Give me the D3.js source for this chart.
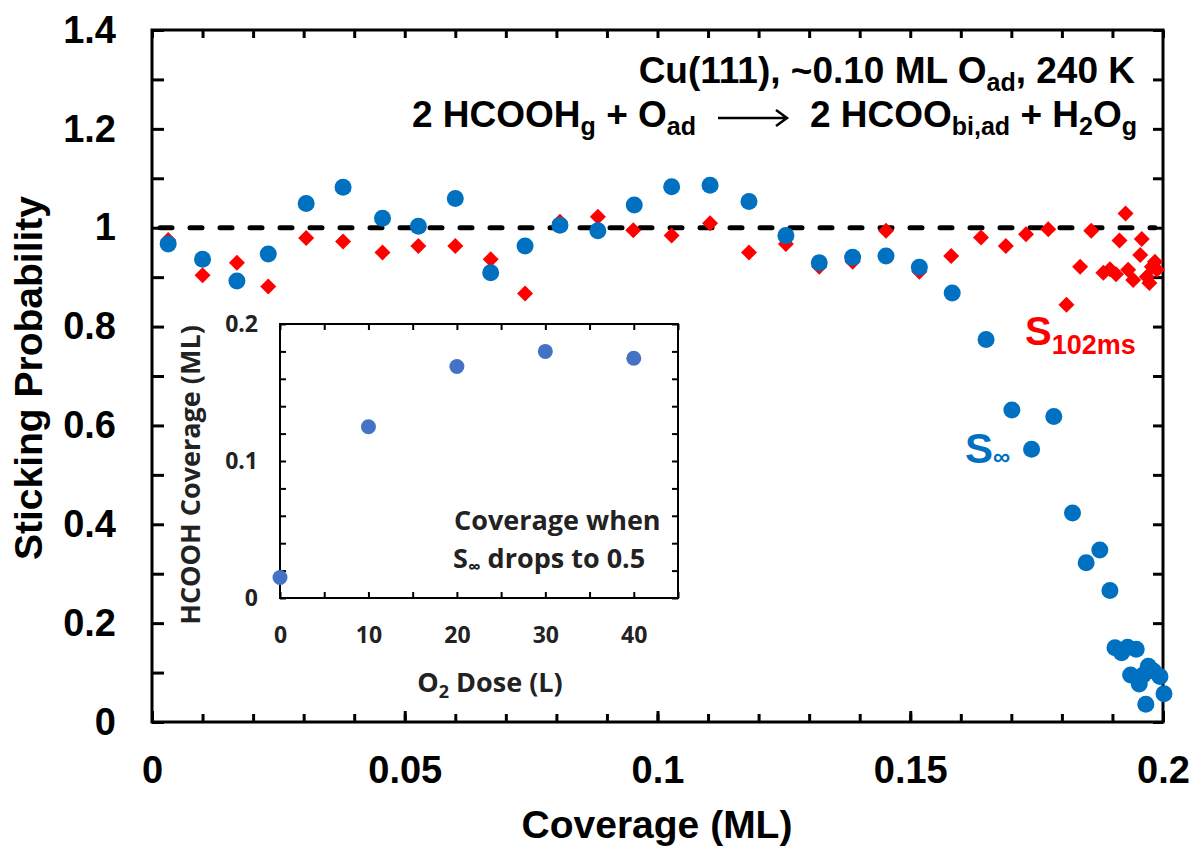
<!DOCTYPE html>
<html>
<head>
<meta charset="utf-8">
<script src="https://cdn.jsdelivr.net/npm/d3@7"></script>
<style>
  body { margin: 0; background: #fff; }
  svg { display: block; }
  .main text { font-family: "Liberation Sans", Arial, sans-serif; font-weight: bold; }
  .inset text { font-family: "Open Sans", sans-serif; font-weight: 700; fill: #222; }
</style>
</head>
<body>
<div id="container"></div>
<script>
const width = 1195, height = 848;

// S_inf (blue circles): coverage (ML), sticking probability
const sInfX = [0.0032, 0.0100, 0.0168, 0.0230, 0.0305, 0.0378, 0.0456, 0.0527, 0.0600, 0.0670,
    0.0738, 0.0807, 0.0882, 0.0954, 0.1028, 0.1104, 0.1181, 0.1254, 0.1320, 0.1386,
    0.1452, 0.1518, 0.1583, 0.1650, 0.1701, 0.1740, 0.1784, 0.1821, 0.1848, 0.1875,
    0.1895, 0.1905, 0.1918, 0.1930, 0.1947, 0.1936, 0.1953, 0.1961, 0.1966, 0.1971,
    0.1981, 0.1994, 0.2002];
const sInfY = [0.967, 0.936, 0.892, 0.947, 1.049, 1.082, 1.019, 1.003, 1.059, 0.909,
    0.963, 1.005, 0.994, 1.046, 1.083, 1.086, 1.053, 0.984, 0.929, 0.940,
    0.943, 0.920, 0.868, 0.774, 0.631, 0.552, 0.618, 0.423, 0.322, 0.348,
    0.266, 0.150, 0.140, 0.151, 0.147, 0.095, 0.077, 0.095, 0.036, 0.113,
    0.103, 0.092, 0.057];

// S_102ms (red diamonds)
const s102X = [0.0032, 0.0100, 0.0168, 0.0230, 0.0305, 0.0378, 0.0456, 0.0527, 0.0600, 0.0670,
    0.0738, 0.0807, 0.0882, 0.0952, 0.1028, 0.1104, 0.1181, 0.1254, 0.1320, 0.1386,
    0.1452, 0.1518, 0.1581, 0.1640, 0.1689, 0.1729, 0.1773, 0.1809, 0.1836, 0.1858,
    0.1882, 0.1895, 0.1907, 0.1914, 0.1926, 0.1931, 0.1941, 0.1955, 0.1958, 0.1968,
    0.1973, 0.1978, 0.1984, 0.1988];
const s102Y = [0.975, 0.904, 0.929, 0.881, 0.979, 0.972, 0.950, 0.963, 0.963, 0.936,
    0.867, 1.012, 1.022, 0.995, 0.984, 1.009, 0.950, 0.967, 0.921, 0.931,
    0.994, 0.911, 0.943, 0.980, 0.963, 0.987, 0.997, 0.844, 0.921, 0.994,
    0.909, 0.916, 0.906, 0.974, 1.029, 0.915, 0.894, 0.945, 0.977, 0.901,
    0.888, 0.921, 0.931, 0.915];

// inset: O2 dose (L) vs HCOOH coverage (ML) when S_inf drops to 0.5
const doseX = [0, 10, 20, 30, 40];
const doseCov = [0.015, 0.125, 0.169, 0.180, 0.175];

const xTicks = [0, 0.05, 0.1, 0.15, 0.2];
const xTickLabels = ["0", "0.05", "0.1", "0.15", "0.2"];
const yTicks = [0, 0.2, 0.4, 0.6, 0.8, 1, 1.2, 1.4];
const yTickLabels = ["0", "0.2", "0.4", "0.6", "0.8", "1", "1.2", "1.4"];
const insetXTicks = [0, 10, 20, 30, 40];
const insetYTicks = [0, 0.1, 0.2];
const insetYTickLabels = ["0", "0.1", "0.2"];

const blue = "#0070C0", red = "#FF0000", insetBlue = "#4472C4";

const svg = d3.select('#container')
    .append('svg')
    .attr('width', width)
    .attr('height', height);

const main = svg.append('g').attr('class', 'main');

const x = d3.scaleLinear().domain([0, 0.2]).range([152, 1163]);
const y = d3.scaleLinear().domain([0, 1.4]).range([722, 30]);

// minor ticks, pointing inward
main.append('g')
    .attr('transform', `translate(0,${y(0)})`)
    .call(d3.axisBottom(x).tickValues(d3.range(0, 0.2001, 0.01)).tickSize(-8).tickFormat(''));
main.append('g')
    .attr('transform', `translate(0,${y(0)})`)
    .call(d3.axisBottom(x).tickValues(xTicks).tickSize(-11).tickFormat(''));
main.append('g')
    .attr('transform', `translate(0,${y(1.4)})`)
    .call(d3.axisTop(x).tickValues(d3.range(0, 0.2001, 0.01)).tickSize(-8).tickFormat(''));
main.append('g')
    .attr('transform', `translate(${x(0)},0)`)
    .call(d3.axisLeft(y).tickValues(d3.range(0, 1.401, 0.1)).tickSize(-12).tickFormat(''));
main.append('g')
    .attr('transform', `translate(${x(0.2)},0)`)
    .call(d3.axisRight(y).tickValues(d3.range(0, 1.401, 0.1)).tickSize(-10).tickFormat(''));
main.selectAll('.tick line').attr('stroke', '#000').attr('stroke-width', 3);
main.selectAll('.domain').remove();

// tick labels
const xLab = main.append('g')
    .attr('transform', `translate(0,${y(0)})`)
    .call(d3.axisBottom(x).tickValues(xTicks).tickSize(0).tickPadding(34)
        .tickFormat((d, i) => xTickLabels[i]));
const yLab = main.append('g')
    .attr('transform', `translate(${x(0)},0)`)
    .call(d3.axisLeft(y).tickValues(yTicks).tickSize(0).tickPadding(36)
        .tickFormat((d, i) => yTickLabels[i]));
[xLab, yLab].forEach(g => {
    g.select('.domain').remove();
    g.selectAll('text').attr('font-size', 38).attr('fill', '#000')
        .style('font-family', '"Liberation Sans", Arial, sans-serif').style('font-weight', 'bold');
});

// frame
main.append('rect')
    .attr('x', x(0)).attr('y', y(1.4))
    .attr('width', x(0.2) - x(0)).attr('height', y(0) - y(1.4))
    .attr('fill', 'none').attr('stroke', '#000').attr('stroke-width', 3);

// S = 1 reference line
main.append('line')
    .attr('x1', x(0) + 8).attr('x2', x(0.2) - 8)
    .attr('y1', y(1)).attr('y2', y(1))
    .attr('stroke', '#000').attr('stroke-width', 5)
    .attr('stroke-linecap', 'round')
    .attr('stroke-dasharray', '12 18');

// axis titles
main.append('text')
    .attr('x', 657).attr('y', 838)
    .attr('text-anchor', 'middle')
    .attr('font-size', 39)
    .text('Coverage (ML)');
main.append('text')
    .attr('transform', 'translate(42,378) rotate(-90)')
    .attr('text-anchor', 'middle')
    .attr('font-size', 39)
    .text('Sticking Probability');

// red diamonds first, blue circles on top
main.append('g')
    .selectAll('path')
    .data(s102X)
    .enter()
    .append('path')
    .attr('d', d3.symbol().type(d3.symbolSquare).size(128))
    .attr('transform', (d, i) => `translate(${x(d)},${y(s102Y[i])}) rotate(45)`)
    .attr('fill', red);

main.append('g')
    .selectAll('circle')
    .data(sInfX)
    .enter()
    .append('circle')
    .attr('cx', d => x(d))
    .attr('cy', (d, i) => y(sInfY[i]))
    .attr('r', 8.5)
    .attr('fill', blue);

// reaction text
const t1 = main.append('text')
    .attr('x', 1135).attr('y', 83)
    .attr('text-anchor', 'end')
    .attr('font-size', 37);
t1.append('tspan').text('Cu(111), ~0.10 ML O');
t1.append('tspan').attr('font-size', 25).attr('dy', 8).text('ad');
t1.append('tspan').attr('dy', -8).text(', 240 K');

const t2 = main.append('text')
    .attr('x', 412).attr('y', 127)
    .attr('font-size', 37);
t2.append('tspan').text('2 HCOOH');
t2.append('tspan').attr('font-size', 25).attr('dy', 8).text('g');
t2.append('tspan').attr('dy', -8).text(' + O');
t2.append('tspan').attr('font-size', 25).attr('dy', 8).text('ad');

const t3 = main.append('text')
    .attr('x', 1137).attr('y', 127)
    .attr('text-anchor', 'end')
    .attr('font-size', 37);
t3.append('tspan').text('2 HCOO');
t3.append('tspan').attr('font-size', 25).attr('dy', 8).text('bi,ad');
t3.append('tspan').attr('dy', -8).text(' + H');
t3.append('tspan').attr('font-size', 25).attr('dy', 8).text('2');
t3.append('tspan').attr('dy', -8).text('O');
t3.append('tspan').attr('font-size', 25).attr('dy', 8).text('g');

// reaction arrow
main.append('path')
    .attr('d', 'M718,118 H786 M776,110 L787,118 L776,126')
    .attr('fill', 'none').attr('stroke', '#000').attr('stroke-width', 2.5);

// series labels
const lr = main.append('text')
    .attr('x', 1025).attr('y', 345)
    .attr('fill', red).attr('font-size', 40);
lr.append('tspan').text('S');
lr.append('tspan').attr('font-size', 27).attr('dy', 9).text('102ms');

const lb = main.append('text')
    .attr('x', 965).attr('y', 463)
    .attr('fill', blue).attr('font-size', 42);
lb.append('tspan').text('S');
lb.append('tspan').attr('font-size', 24).attr('dy', 2).text('∞');

// ---------- inset ----------
const inset = svg.append('g').attr('class', 'inset');
const ix = d3.scaleLinear().domain([0, 45]).range([280, 678]);
const iy = d3.scaleLinear().domain([0, 0.2]).range([598, 324]);

inset.append('rect')
    .attr('x', ix(0)).attr('y', iy(0.2))
    .attr('width', ix(45) - ix(0)).attr('height', iy(0) - iy(0.2))
    .attr('fill', '#fff');

inset.append('g')
    .attr('transform', `translate(0,${iy(0)})`)
    .call(d3.axisBottom(ix).tickValues(d3.range(0, 45.1, 5)).tickSize(-6).tickFormat(''));
inset.append('g')
    .attr('transform', `translate(0,${iy(0.2)})`)
    .call(d3.axisTop(ix).tickValues(d3.range(0, 45.1, 5)).tickSize(-6).tickFormat(''));
inset.append('g')
    .attr('transform', `translate(${ix(0)},0)`)
    .call(d3.axisLeft(iy).tickValues(d3.range(0, 0.201, 0.02)).tickSize(-6).tickFormat(''));
inset.append('g')
    .attr('transform', `translate(${ix(45)},0)`)
    .call(d3.axisRight(iy).tickValues(d3.range(0, 0.201, 0.02)).tickSize(-6).tickFormat(''));
inset.selectAll('.tick line').attr('stroke', '#000').attr('stroke-width', 2);
inset.selectAll('.domain').remove();

const ixLab = inset.append('g')
    .attr('transform', `translate(0,${iy(0)})`)
    .call(d3.axisBottom(ix).tickValues(insetXTicks).tickSize(0).tickPadding(30));
const iyLab = inset.append('g')
    .attr('transform', `translate(${ix(0)},0)`)
    .call(d3.axisLeft(iy).tickValues(insetYTicks).tickSize(0).tickPadding(22)
        .tickFormat((d, i) => insetYTickLabels[i]));
[ixLab, iyLab].forEach(g => {
    g.select('.domain').remove();
    g.selectAll('text').attr('font-size', 23).attr('fill', '#222')
        .style('font-family', '"Open Sans", sans-serif').style('font-weight', 700);
});
ixLab.selectAll('text').attr('dy', '0');
ixLab.selectAll('text').attr('y', 45);

inset.append('rect')
    .attr('x', ix(0)).attr('y', iy(0.2))
    .attr('width', ix(45) - ix(0)).attr('height', iy(0) - iy(0.2))
    .attr('fill', 'none').attr('stroke', '#000').attr('stroke-width', 2);

inset.append('g')
    .selectAll('circle')
    .data(doseX)
    .enter()
    .append('circle')
    .attr('cx', d => ix(d))
    .attr('cy', (d, i) => iy(doseCov[i]))
    .attr('r', 7.5)
    .attr('fill', insetBlue);

// inset titles
const ixt = inset.append('text')
    .attr('x', 490).attr('y', 692)
    .attr('text-anchor', 'middle')
    .attr('font-size', 27);
ixt.append('tspan').text('O');
ixt.append('tspan').attr('font-size', 18).attr('dy', 6).text('2');
ixt.append('tspan').attr('dy', -6).text(' Dose (L)');

inset.append('text')
    .attr('transform', 'translate(200,475) rotate(-90)')
    .attr('text-anchor', 'middle')
    .attr('font-size', 27)
    .text('HCOOH Coverage (ML)');

inset.append('text')
    .attr('x', 454).attr('y', 530)
    .attr('font-size', 27)
    .text('Coverage when');
const n2 = inset.append('text')
    .attr('x', 453).attr('y', 568)
    .attr('font-size', 27);
n2.append('tspan').text('S');
n2.append('tspan').attr('font-size', 18).attr('dy', 5).text('∞');
n2.append('tspan').attr('dy', -5).text(' drops to 0.5');
</script>
</body>
</html>
